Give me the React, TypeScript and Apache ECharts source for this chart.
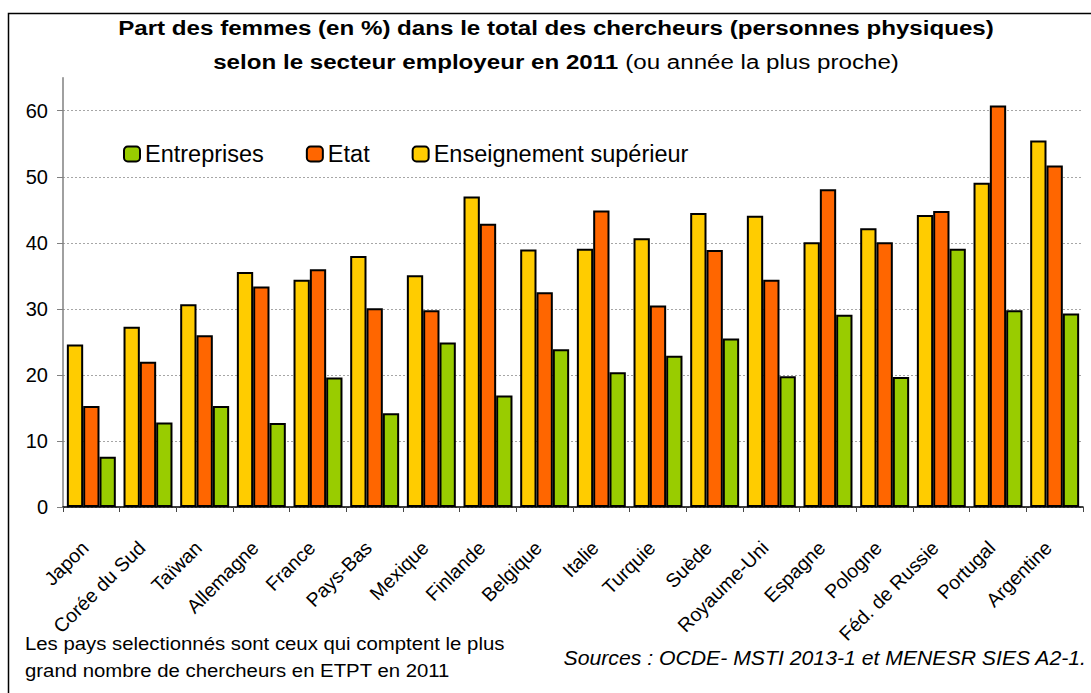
import React, { useEffect, useRef } from "react";
import * as echarts from "echarts";

const categories = [
  "Japon", "Corée du Sud", "Taïwan", "Allemagne", "France", "Pays-Bas", "Mexique",
  "Finlande", "Belgique", "Italie", "Turquie", "Suède", "Royaume-Uni", "Espagne",
  "Pologne", "Féd. de Russie", "Portugal", "Argentine",
];
const enseignement = [24.6, 27.3, 30.7, 35.6, 34.4, 38.0, 35.1, 47.0, 39.0, 39.1, 40.7, 44.5, 44.1, 40.1, 42.2, 44.2, 49.1, 55.5];
const etat = [15.3, 22.0, 26.0, 33.4, 36.0, 30.1, 29.8, 42.9, 32.5, 44.9, 30.5, 38.9, 34.4, 48.1, 40.1, 44.8, 60.8, 51.7];
const entreprises = [7.6, 12.8, 15.3, 12.7, 19.6, 14.2, 24.9, 16.9, 23.9, 20.4, 22.9, 25.5, 19.8, 29.1, 19.7, 39.1, 29.8, 29.3];
const yTicks = [0, 10, 20, 30, 40, 50, 60];
const legendOrder = ["Entreprises", "Etat", "Enseignement supérieur"];

const FONT = "'Liberation Sans', Arial, sans-serif";

export default function App() {
  const ref = useRef<HTMLDivElement>(null);
  useEffect(() => {
    document.body.style.margin = "0";
    const chart = echarts.init(ref.current!, null, { renderer: "svg" });
    const barStyle = (color: string) => ({ color, borderColor: "#000", borderWidth: 2 });
    chart.setOption({
      animation: false,
      backgroundColor: "#fff",
      textStyle: { fontFamily: FONT, color: "#000" },
      grid: { left: 63, right: 8, top: 77.7, bottom: 186, containLabel: false },
      legend: {
        data: legendOrder,
        left: 123,
        top: 142,
        padding: 0,
        itemWidth: 16,
        itemHeight: 15,
        itemGap: 42,
        textStyle: { fontFamily: FONT, fontSize: 23.5, color: "#000" },
      },
      xAxis: {
        type: "category",
        data: categories,
        boundaryGap: true,
        axisLine: { lineStyle: { color: "#000", width: 1.5 } },
        axisTick: { show: true, alignWithLabel: false, length: 5, lineStyle: { color: "#444" } },
        axisLabel: {
          interval: 0,
          rotate: 45,
          margin: 31,
          padding: [0, 9, 0, 0],
          fontFamily: FONT,
          fontSize: 19.5,
          color: "#000",
        },
      },
      yAxis: {
        type: "value",
        min: 0,
        max: 65,
        interval: 10,
        axisLine: { show: true, lineStyle: { color: "#808080", width: 1.5 } },
        axisTick: { show: true, length: 6, customValues: yTicks, lineStyle: { color: "#808080" } },
        axisLabel: { customValues: yTicks, margin: 15, fontFamily: FONT, fontSize: 20, color: "#000" },
        splitLine: { show: true, lineStyle: { color: "#a6a6a6", type: [2, 2], width: 1 } },
      },
      series: [
        { name: "Enseignement supérieur", type: "bar", data: enseignement, itemStyle: barStyle("#FFCC00"), barGap: "0%", barCategoryGap: "13.6%" },
        { name: "Etat", type: "bar", data: etat, itemStyle: barStyle("#FF6600"), barGap: "0%", barCategoryGap: "13.6%" },
        { name: "Entreprises", type: "bar", data: entreprises, itemStyle: barStyle("#99CC00"), barGap: "0%", barCategoryGap: "13.6%" },
      ],
      graphic: [
        {
          type: "rect",
          silent: true,
          shape: { x: 8.5, y: 13.5, width: 1092, height: 692 },
          style: { fill: "none", stroke: "#000", lineWidth: 1.5 },
        },
        {
          type: "text",
          x: 556,
          y: 28,
          scaleX: 1.15,
          style: {
            text: "Part des femmes (en %) dans le total des chercheurs (personnes physiques)",
            x: 0, y: 0,
            textAlign: "center",
            textVerticalAlign: "middle",
            fontFamily: FONT,
            fontWeight: "bold",
            fontSize: 21,
            fill: "#000",
          },
        },
        {
          type: "text",
          x: 556,
          y: 62,
          scaleX: 1.15,
          style: {
            text: "{b|selon le secteur employeur en 2011} {n|(ou année la plus proche)}",
            x: 0, y: 0,
            textAlign: "center",
            textVerticalAlign: "middle",
            fontFamily: FONT,
            fontSize: 21,
            fill: "#000",
            rich: {
              b: { fontFamily: FONT, fontWeight: "bold", fontSize: 21, fill: "#000" },
              n: { fontFamily: FONT, fontWeight: "normal", fontSize: 21, fill: "#000" },
            },
          },
        },
        {
          type: "text",
          x: 25,
          y: 643,
          scaleX: 1.1,
          style: {
            text: "Les pays selectionnés sont ceux qui comptent le plus",
            x: 0, y: 0,
            textAlign: "left",
            textVerticalAlign: "middle",
            fontFamily: FONT,
            fontSize: 18.5,
            fill: "#000",
          },
        },
        {
          type: "text",
          x: 25,
          y: 670,
          scaleX: 1.1,
          style: {
            text: "grand nombre de chercheurs en ETPT en 2011",
            x: 0, y: 0,
            textAlign: "left",
            textVerticalAlign: "middle",
            fontFamily: FONT,
            fontSize: 18.5,
            fill: "#000",
          },
        },
        {
          type: "text",
          x: 1086,
          y: 658,
          scaleX: 1.1,
          style: {
            text: "Sources : OCDE- MSTI 2013-1 et MENESR SIES A2-1.",
            x: 0, y: 0,
            textAlign: "right",
            textVerticalAlign: "middle",
            fontFamily: FONT,
            fontStyle: "italic",
            fontSize: 19.3,
            fill: "#000",
          },
        },
      ],
    });
    return () => chart.dispose();
  }, []);
  return <div ref={ref} style={{ width: 1091, height: 693 }} />;
}
